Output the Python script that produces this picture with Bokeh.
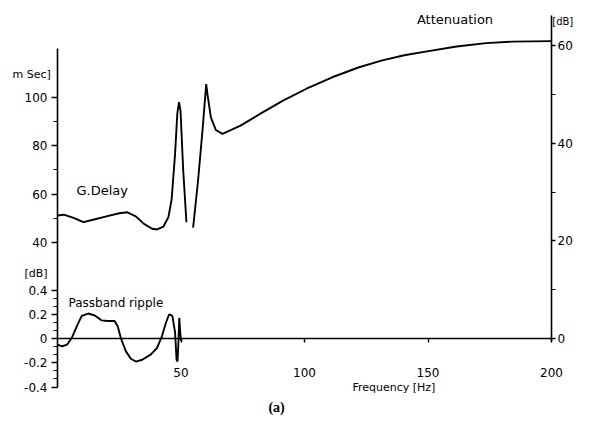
from bokeh.plotting import figure
from bokeh.models import Range1d, LinearAxis, FixedTicker, Label
from bokeh.embed import file_html
from bokeh.resources import INLINE

# ---- data ----
delay_f = [0, 2.5, 6.5, 10.5, 14.4, 19.8, 25.0, 28.3, 31.7, 35.0, 38.3, 40.3, 42.9, 44.9,
           46.2, 47.6, 48.5, 49.2, 49.8, 50.9, 52.2]
delay_ms = [51.2, 51.5, 50.2, 48.4, 49.4, 50.8, 52.1, 52.5, 50.8, 47.7, 45.7, 45.4, 46.6, 50.5,
            57.8, 76.7, 93.3, 98.1, 94.6, 69.8, 48.4]

att_f = [54.9, 56.9, 58.8, 60.2, 60.8, 62.1, 64.1, 66.8, 74.1, 82.0, 91.3, 100.6, 111.2,
         121.8, 131.1, 140.4, 149.6, 161.6, 173.5, 184.1, 200.0]
att_db = [22.7, 32.3, 43.2, 52.1, 49.7, 45.3, 42.7, 41.9, 43.6, 46.0, 48.7, 51.1, 53.5,
          55.5, 56.9, 58.0, 58.8, 59.8, 60.5, 60.8, 60.9]

rip_f = [0, 1.9, 3.9, 5.8, 7.8, 9.8, 12.4, 15.1, 17.8, 20.4, 23.1, 24.4, 25.7, 27.7, 29.7,
         31.7, 34.3, 37.7, 40.3, 42.3, 43.9, 45.2, 46.5, 47.6, 48.2, 48.6, 49.0, 49.3, 49.6, 50.0]
rip_db = [-0.05, -0.064, -0.05, 0.006, 0.10, 0.186, 0.206, 0.19, 0.15, 0.144, 0.144, 0.10, 0.0,
          -0.106, -0.167, -0.19, -0.175, -0.133, -0.078, 0.02, 0.13, 0.20, 0.186, 0.05, -0.175,
          -0.19, -0.01, 0.17, 0.075, -0.02]

freq_ticks = [50, 100, 150, 200]
delay_ticks = [40, 60, 80, 100]
delay_minor = [50, 70, 90]
rip_ticks = [-0.4, -0.2, 0, 0.2, 0.4]
rip_minor = [-0.3333, -0.2667, -0.1333, -0.0667, 0.0667, 0.1333, 0.2667, 0.3333]
att_ticks = [0, 20, 40, 60]
att_minor = [10, 30, 50]

FONT = "DejaVu Sans"

p = figure(width=574, height=423, x_range=Range1d(-23.08, 209.31), y_range=Range1d(-17.41, 69.22),
           x_axis_location=None, y_axis_location=None, toolbar_location=None,
           output_backend="svg", min_border=0)
p.outline_line_color = None
p.background_fill_color = "white"
p.xgrid.visible = False
p.ygrid.visible = False
p.extra_y_ranges = {"delay": Range1d(-34.90, 140.14), "ripple": Range1d(-0.701, 2.788)}


def style(ax, out=6, mout=4, standoff=4):
    ax.axis_line_color = "black"
    ax.axis_line_width = 1.6
    ax.major_tick_line_color = "black"
    ax.major_tick_line_width = 1.4
    ax.minor_tick_line_color = "black"
    ax.minor_tick_line_width = 1.2
    ax.major_tick_out = out
    ax.major_tick_in = 0
    ax.minor_tick_out = mout
    ax.minor_tick_in = 0
    ax.major_label_standoff = standoff
    ax.major_label_text_font = FONT
    ax.major_label_text_font_size = "12px"
    ax.major_label_text_color = "black"


ax_delay = LinearAxis(y_range_name="delay", fixed_location=0, bounds=(40, 120.3),
                      ticker=FixedTicker(ticks=delay_ticks, minor_ticks=delay_minor))
style(ax_delay)
p.add_layout(ax_delay, "left")

ax_rip = LinearAxis(y_range_name="ripple", fixed_location=0, bounds=(-0.4, 0.804),
                    ticker=FixedTicker(ticks=rip_ticks, minor_ticks=rip_minor),
                    major_label_overrides={0: "0", 0.4: "0.4", 0.2: "0.2", -0.2: "-0.2", -0.4: "-0.4"})
style(ax_rip)
p.add_layout(ax_rip, "left")

ax_att = LinearAxis(fixed_location=200, bounds=(-0.6, 66.14),
                    ticker=FixedTicker(ticks=att_ticks, minor_ticks=att_minor))
style(ax_att, out=4, mout=4, standoff=2)
p.add_layout(ax_att, "right")

ax_f = LinearAxis(fixed_location=0, bounds=(0, 200), ticker=FixedTicker(ticks=freq_ticks))
style(ax_f, out=4, mout=0, standoff=26)
ax_f.minor_tick_line_color = None
p.add_layout(ax_f, "below")

p.line(delay_f, delay_ms, y_range_name="delay", line_color="black", line_width=1.9)
p.line(att_f, att_db, line_color="black", line_width=1.9)
p.line(rip_f, rip_db, y_range_name="ripple", line_color="black", line_width=1.9)


def lab(x, y, text, rng=None, size="12px", align="left", font=FONT, style="normal"):
    kw = dict(x=x, y=y, text=text, text_font=font, text_font_size=size, text_align=align,
              text_baseline="middle", text_color="black", text_font_style=style)
    if rng:
        kw["y_range_name"] = rng
    p.add_layout(Label(**kw))


lab(-18.2, 109.5, "m Sec]", rng="delay", size="11px")
lab(-13.4, 0.536, "[dB]", rng="ripple", size="11px")
lab(7.7, 61.5, "G.Delay", rng="delay", size="13px")
lab(4.45, 0.297, "Passband   ripple", rng="ripple", size="12px")
lab(145.5, 65.4, "Attenuation", size="13px")
lab(200.3, 65.0, "[dB]", size="10px")
lab(119.4, -10.0, "Frequency  [Hz]", size="11px")
lab(88.7, -14.1, "(a)", size="14px", align="center", font="Liberation Serif", style="bold")

open("out.html", "w").write(file_html(p, INLINE))
